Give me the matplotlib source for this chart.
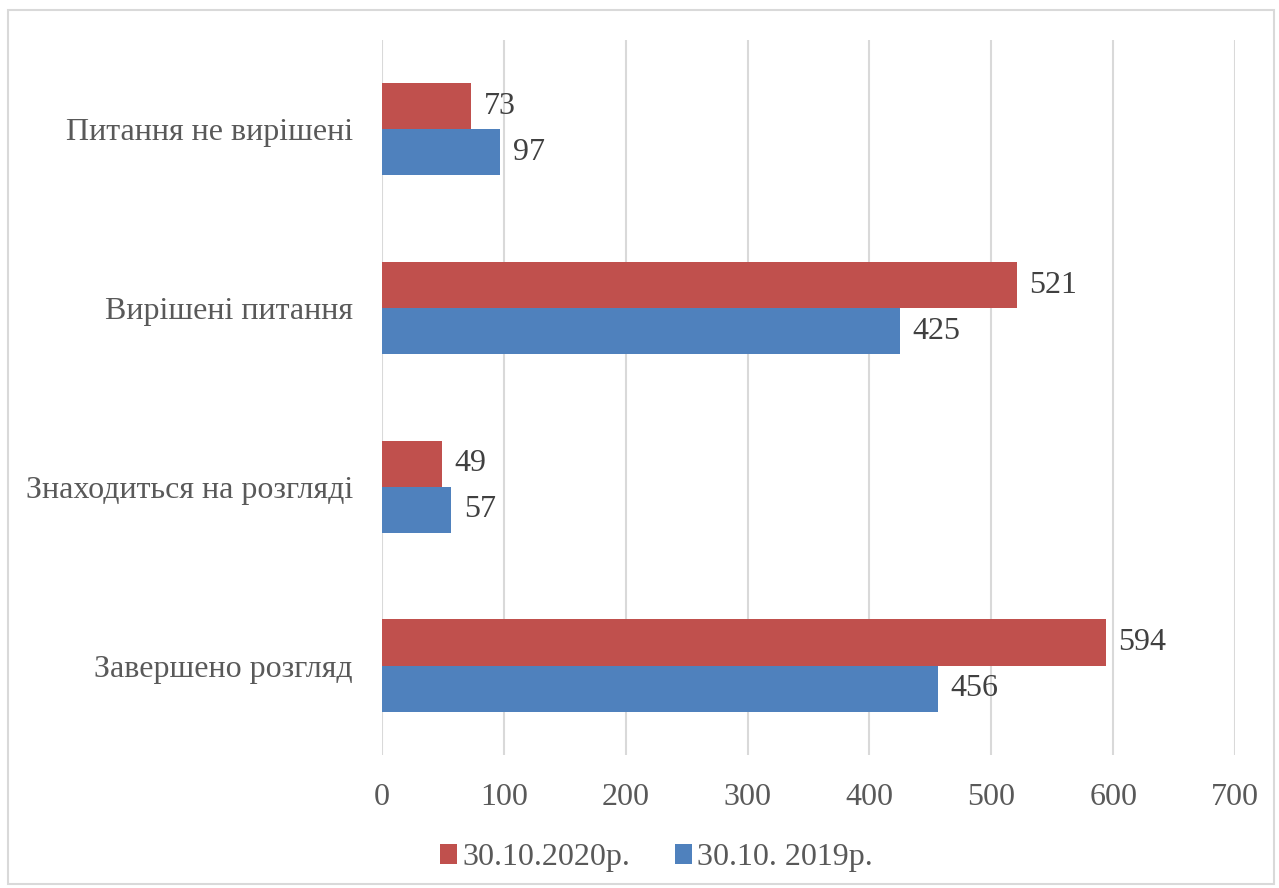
import matplotlib.pyplot as plt
from matplotlib.patches import Rectangle
import numpy as np

plt.rcParams['font.family'] = ['Liberation Serif', 'DejaVu Serif']

categories = ['Завершено розгляд', 'Знаходиться на розгляді', 'Вирішені питання', 'Питання не вирішені']
values_2020 = [594, 49, 521, 73]
values_2019 = [456, 57, 425, 97]
series_labels = ['30.10.2020р.', '30.10. 2019р.']

red = '#C0504D'
blue = '#4F81BD'
text_color = '#595959'

fig = plt.figure(figsize=(12.79, 8.88), dpi=100)
ax = fig.add_axes([0.2987, 0.1498, 0.6669, 0.8052])

y = np.arange(len(categories))
h = 0.258

b1 = ax.barh(y + h / 2, values_2020, height=h, color=red, label=series_labels[0], zorder=3)
b2 = ax.barh(y - h / 2, values_2019, height=h, color=blue, label=series_labels[1], zorder=3)

for bars in (b1, b2):
    for bar in bars:
        w = bar.get_width()
        ax.annotate(str(int(w)), (w, bar.get_y() + bar.get_height() / 2),
                    xytext=(9, 0), textcoords='offset points',
                    va='center', ha='left', fontsize=23, color='#404040')

ax.set_xlim(0, 700)
ax.set_ylim(-0.5, 3.5)
ax.set_xticks(range(0, 701, 100))
ax.set_yticks(y)
ax.set_yticklabels(categories)
ax.tick_params(axis='both', length=0, labelsize=23, colors=text_color)
ax.tick_params(axis='x', pad=20)
ax.tick_params(axis='y', pad=21)
ax.grid(axis='x', color='#D9D9D9', linewidth=1.5, zorder=0)
for s in ax.spines.values():
    s.set_visible(False)

fig.legend(handles=[b1, b2], labels=series_labels, loc='center', bbox_to_anchor=(0.513, 0.034),
           ncol=2, frameon=False, fontsize=23, handlelength=0.55, handleheight=0.55,
           handletextpad=0.15, columnspacing=1.4, labelcolor=text_color)

fig.patches.append(Rectangle((0.006, 0.004), 0.99, 0.985, transform=fig.transFigure,
                             fill=False, edgecolor='#D9D9D9', linewidth=1.5))

plt.savefig('out.png', dpi=100)
